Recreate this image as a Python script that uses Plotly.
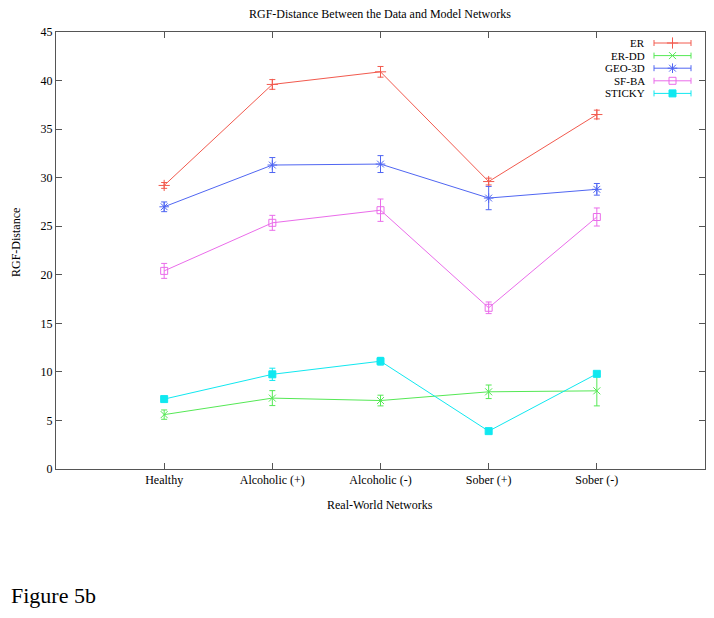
import plotly.graph_objects as go

categories = ["Healthy", "Alcoholic (+)", "Alcoholic (-)", "Sober (+)", "Sober (-)"]

series_names = ["ER", "ER-DD", "GEO-3D", "SF-BA", "STICKY"]

er_vals = [29.2, 39.6, 40.9, 29.6, 36.5]
er_err = [0.3, 0.5, 0.55, 0.35, 0.45]

erdd_vals = [5.6, 7.3, 7.05, 7.95, 8.05]
erdd_err = [0.48, 0.77, 0.55, 0.7, 1.55]

geo_vals = [27.0, 31.3, 31.4, 27.9, 28.8]
geo_err = [0.5, 0.77, 0.87, 1.2, 0.6]

sfba_vals = [20.4, 25.35, 26.65, 16.6, 25.95]
sfba_err = [0.77, 0.77, 1.15, 0.6, 0.93]

sticky_vals = [7.2, 9.75, 11.1, 3.9, 9.8]
sticky_err = [0.2, 0.63, 0.4, 0.2, 0.2]

y_ticks = [0, 5, 10, 15, 20, 25, 30, 35, 40, 45]

colors = ["#f25a4e", "#55e855", "#5066f2", "#ea6cea", "#10e8f0"]
symbols = ["cross-thin-open", "x-thin-open", "asterisk-open", "square-open", "square"]
sizes = [8, 7, 8, 7, 7]

all_vals = [er_vals, erdd_vals, geo_vals, sfba_vals, sticky_vals]
all_err = [er_err, erdd_err, geo_err, sfba_err, sticky_err]

FONT = "Liberation Serif, Times New Roman, serif"

# page-pixel frame of the plot area (page has an 8px body margin)
PX_L, PX_R, PX_T, PX_B = 56, 705, 32, 469
OFF = 8
W, H = 698, 602


def px2paper(px, py):
    return (px - PX_L) / (PX_R - PX_L), (PX_B - py) / (PX_B - PX_T)


fig = go.Figure()

for name, vals, errs, c, sym, sz in zip(series_names, all_vals, all_err, colors, symbols, sizes):
    fig.add_trace(go.Scatter(
        x=categories, y=vals, name=name, mode="lines+markers",
        line=dict(color=c, width=1),
        marker=dict(symbol=sym, size=sz, color=c, line=dict(color=c, width=1)),
        error_y=dict(type="data", array=errs, visible=True, color=c, thickness=1, width=3),
        showlegend=False,
    ))

# Custom gnuplot-style legend (text right, sample on the right) on a pixel overlay axis
leg_x0, leg_x1 = 654, 691
leg_text_x = 646
leg_y0, leg_dy = 43, 12.6
for i, (name, c, sym, sz) in enumerate(zip(series_names, colors, symbols, sizes)):
    yy = leg_y0 + i * leg_dy
    fig.add_trace(go.Scatter(
        x=[leg_x0, leg_x0, None, leg_x0, leg_x1, None, leg_x1, leg_x1],
        y=[yy - 3, yy + 3, None, yy, yy, None, yy - 3, yy + 3],
        mode="lines", line=dict(color=c, width=1),
        xaxis="x2", yaxis="y2", showlegend=False, hoverinfo="skip",
    ))
    fig.add_trace(go.Scatter(
        x=[(leg_x0 + leg_x1) / 2], y=[yy], mode="markers",
        marker=dict(symbol=sym, size=sz, color=c, line=dict(color=c, width=1)),
        xaxis="x2", yaxis="y2", showlegend=False, hoverinfo="skip",
    ))
    fig.add_annotation(
        x=leg_text_x, y=yy, xref="x2", yref="y2", text=name, showarrow=False,
        xanchor="right", yanchor="middle", valign="middle", borderpad=0,
        font=dict(family=FONT, size=11, color="#000"),
    )

axis_common = dict(
    showline=True, linecolor="#555", linewidth=1, mirror="ticks",
    ticks="inside", ticklen=6, tickcolor="#555", showgrid=False, zeroline=False,
    tickfont=dict(family=FONT, size=12, color="#000"),
)

fig.update_layout(
    width=W, height=H,
    margin=dict(l=PX_L - OFF, r=W + OFF - PX_R, t=PX_T - OFF, b=H + OFF - PX_B),
    paper_bgcolor="white", plot_bgcolor="white",
    xaxis=dict(type="category", range=[-1, 5], **axis_common),
    yaxis=dict(range=[0, 45], tickvals=y_ticks, **axis_common),
    xaxis2=dict(overlaying="x", range=[PX_L, PX_R], visible=False, fixedrange=True),
    yaxis2=dict(overlaying="y", range=[PX_B, PX_T], visible=False, fixedrange=True),
    showlegend=False,
)


def add_text(text, px, py, size=12, angle=0, xanchor="center"):
    ax, ay = px2paper(px, py)
    fig.add_annotation(text=text, x=ax, y=ay, xref="paper", yref="paper",
                       showarrow=False, textangle=angle, xanchor=xanchor, yanchor="middle",
                       borderpad=0, font=dict(family=FONT, size=size, color="#000"))


add_text("RGF-Distance Between the Data and Model Networks", 380, 14)
add_text("Real-World Networks", 380, 505)
add_text("RGF-Distance", 16, 243, angle=-90)
add_text("Figure 5b", 10, 595, size=22, xanchor="left")

fig.write_html("out.html")
